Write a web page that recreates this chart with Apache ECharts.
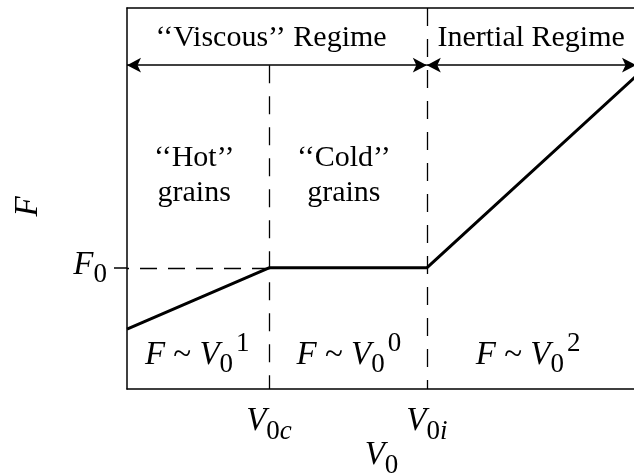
<!DOCTYPE html>
<html>
<head>
<meta charset="utf-8">
<script src="https://cdn.jsdelivr.net/npm/echarts@6/dist/echarts.min.js"></script>
<style>
  html, body { margin: 0; padding: 0; background: #fff; }
  #main { width: 634px; height: 474px; }
</style>
</head>
<body>
<div id="main"></div>
<script>
// breakpoints of the curve (arbitrary units, V0 axis 0..100, F axis 0..100)
const v0Points = [0, 27.9, 58.9, 100]
const fPoints = [15.7, 31.8, 31.8, 82.1]
const V0c = 27.9
const V0i = 58.9
const F0 = 31.8
const arrowLevel = 85

const serif = 'Liberation Serif, Times New Roman, serif'
const mathRich = {
  i: { fontFamily: serif, fontStyle: 'italic', fontSize: 33, color: '#000', padding: [8, 0, 0, 0], verticalAlign: 'top' },
  r: { fontFamily: serif, fontSize: 33, color: '#000', padding: [8, 0, 0, 0], verticalAlign: 'top' },
  s: { fontFamily: serif, fontSize: 27, color: '#000', padding: [21, 0, 0, 0], verticalAlign: 'top' },
  si: { fontFamily: serif, fontStyle: 'italic', fontSize: 27, color: '#000', padding: [21, 0, 0, 0], verticalAlign: 'top' },
  p: { fontFamily: serif, fontSize: 27, color: '#000', padding: [0, 0, 0, 3], verticalAlign: 'top' }
}

const chart = echarts.init(document.getElementById('main'))

const dash = (from, to, pattern) => [
  { coord: from, lineStyle: { type: pattern } },
  { coord: to }
]

const option = {
  animation: false,
  grid: { left: 127, top: 8, right: -2, bottom: 85, outerBoundsMode: 'none', containLabel: false },
  xAxis: [
    {
      type: 'value', min: 0, max: 100,
      name: '{i|V}{s|0}', nameLocation: 'middle', nameGap: 42, nameMoveOverlap: false,
      nameTextStyle: { rich: mathRich },
      axisLine: { lineStyle: { color: '#000', width: 1.5 } },
      axisTick: { show: false },
      splitLine: { show: false },
      axisLabel: {
        customValues: [V0c, V0i],
        margin: 8,
        formatter: v => v === V0c ? '{i|V}{s|0}{si|c}' : '{i|V}{s|0}{si|i}',
        rich: mathRich
      }
    },
    {
      type: 'value', min: 0, max: 100, position: 'top',
      axisLine: { lineStyle: { color: '#000', width: 1.5 } },
      axisTick: { show: false }, axisLabel: { show: false }, splitLine: { show: false }
    }
  ],
  yAxis: {
    type: 'value', min: 0, max: 100,
    name: '{i|F}', nameLocation: 'middle', nameGap: 82, nameRotate: 90,
    nameTextStyle: { rich: mathRich, padding: [0, 16, 0, 0] },
    axisLine: { show: true, lineStyle: { color: '#000', width: 1.5 } },
    axisTick: { show: true, customValues: [F0], length: 13, lineStyle: { color: '#000', width: 1.5 } },
    splitLine: { show: false },
    axisLabel: {
      customValues: [F0],
      margin: 20,
      padding: [0, 0, 6, 0],
      formatter: () => '{i|F}{s|0}',
      rich: mathRich
    }
  },
  series: [
    {
      type: 'line',
      data: v0Points.map((v, i) => [v, fPoints[i]]),
      symbol: 'none',
      lineStyle: { color: '#000', width: 3 },
      markLine: {
        silent: true,
        symbol: 'none',
        label: { show: false },
        lineStyle: { color: '#000', width: 1.3 },
        data: [
          dash([V0c, F0], [0, F0], [17, 11]),
          dash([V0c, arrowLevel], [V0c, 0], [18, 13]),
          dash([V0i, 100], [V0i, 0], [18, 13])
        ]
      }
    },
    {
      type: 'line',
      data: [],
      markLine: {
        silent: true,
        symbol: ['arrow', 'arrow'],
        symbolSize: [11, 14],
        label: { show: false },
        lineStyle: { color: '#000', width: 1.5, type: 'solid' },
        data: [
          [{ coord: [0, arrowLevel] }, { coord: [V0i, arrowLevel] }],
          [{ coord: [V0i, arrowLevel] }, { coord: [100, arrowLevel] }]
        ]
      }
    }
  ]
}
chart.setOption(option)

// annotations placed in data coordinates
const notes = [
  { at: [28.3, 92.1], text: '‘‘Viscous’’ Regime' },
  { at: [79.4, 92.1], text: 'Inertial Regime' },
  { at: [13.2, 56.0], text: '‘‘Hot’’\ngrains' },
  { at: [42.6, 56.0], text: '‘‘Cold’’\ngrains' },
  { at: [13.8, 9.0], text: '{i|F}{r| ~ }{i|V}{s|0}{p|1}', math: true },
  { at: [43.6, 9.0], text: '{i|F}{r| ~ }{i|V}{s|0}{p|0}', math: true },
  { at: [78.8, 9.0], text: '{i|F}{r| ~ }{i|V}{s|0}{p|2}', math: true }
]

chart.setOption({
  graphic: notes.map(n => {
    const [x, y] = chart.convertToPixel({ gridIndex: 0 }, n.at)
    return {
      type: 'text', x, y, silent: true,
      style: n.math
        ? { text: n.text, rich: mathRich, align: 'center', verticalAlign: 'middle' }
        : { text: n.text, fontFamily: serif, fontSize: 30, lineHeight: 35, fill: '#000', align: 'center', verticalAlign: 'middle' }
    }
  })
})
</script>
</body>
</html>
